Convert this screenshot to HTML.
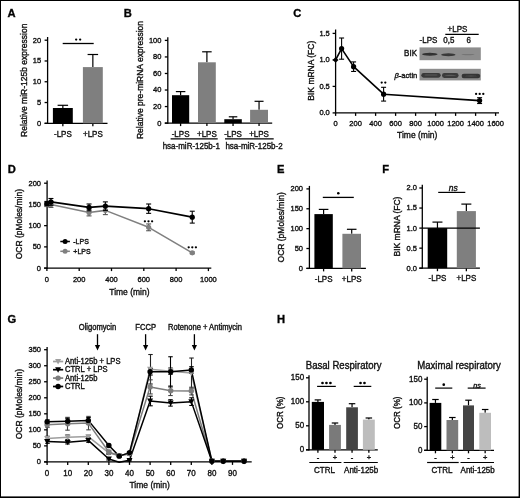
<!DOCTYPE html>
<html><head><meta charset="utf-8"><style>
html,body{margin:0;padding:0;background:#fff;}
svg{display:block;filter:grayscale(1) blur(0.3px);}
text{font-family:"Liberation Sans", sans-serif;stroke:#111;stroke-width:0.35px;}
</style></head><body>
<svg width="520" height="498" viewBox="0 0 520 498">
<rect x="0.00" y="0.00" width="520.00" height="498.00" fill="#000" />
<rect x="1.00" y="1.00" width="517.60" height="495.40" fill="#fff" />
<text x="7.60" y="16.70" font-size="11.2" text-anchor="start" font-weight="bold" fill="#000" transform="matrix(1 0 0 1.03 0 -0.501)">A</text>
<text x="123.70" y="16.90" font-size="11.2" text-anchor="start" font-weight="bold" fill="#000" transform="matrix(1 0 0 1.03 0 -0.507)">B</text>
<text x="293.20" y="16.90" font-size="11.2" text-anchor="start" font-weight="bold" fill="#000" transform="matrix(1 0 0 1.03 0 -0.507)">C</text>
<text x="7.70" y="172.90" font-size="11.2" text-anchor="start" font-weight="bold" fill="#000" transform="matrix(1 0 0 1.03 0 -5.187)">D</text>
<text x="276.90" y="172.70" font-size="11.2" text-anchor="start" font-weight="bold" fill="#000" transform="matrix(1 0 0 1.03 0 -5.181)">E</text>
<text x="382.20" y="173.00" font-size="11.2" text-anchor="start" font-weight="bold" fill="#000" transform="matrix(1 0 0 1.03 0 -5.190)">F</text>
<text x="7.50" y="322.80" font-size="11.2" text-anchor="start" font-weight="bold" fill="#000" transform="matrix(1 0 0 1.03 0 -9.684)">G</text>
<text x="277.00" y="322.60" font-size="11.2" text-anchor="start" font-weight="bold" fill="#000" transform="matrix(1 0 0 1.03 0 -9.678)">H</text>
<line x1="47.60" y1="37.00" x2="47.60" y2="123.90" stroke="#000" stroke-width="1.3" />
<line x1="44.60" y1="123.30" x2="47.60" y2="123.30" stroke="#000" stroke-width="1.3" />
<text x="41.20" y="125.74" font-size="7.5" text-anchor="end" font-weight="normal" fill="#111" transform="matrix(1 0 0 1.07 0 -8.802)">0</text>
<line x1="44.60" y1="102.53" x2="47.60" y2="102.53" stroke="#000" stroke-width="1.3" />
<text x="41.20" y="104.96" font-size="7.5" text-anchor="end" font-weight="normal" fill="#111" transform="matrix(1 0 0 1.07 0 -7.347)">5</text>
<line x1="44.60" y1="81.75" x2="47.60" y2="81.75" stroke="#000" stroke-width="1.3" />
<text x="41.20" y="84.19" font-size="7.5" text-anchor="end" font-weight="normal" fill="#111" transform="matrix(1 0 0 1.07 0 -5.893)">10</text>
<line x1="44.60" y1="60.98" x2="47.60" y2="60.98" stroke="#000" stroke-width="1.3" />
<text x="41.20" y="63.41" font-size="7.5" text-anchor="end" font-weight="normal" fill="#111" transform="matrix(1 0 0 1.07 0 -4.439)">15</text>
<line x1="44.60" y1="40.20" x2="47.60" y2="40.20" stroke="#000" stroke-width="1.3" />
<text x="41.20" y="42.64" font-size="7.5" text-anchor="end" font-weight="normal" fill="#111" transform="matrix(1 0 0 1.07 0 -2.985)">20</text>
<line x1="44.60" y1="123.30" x2="107.50" y2="123.30" stroke="#000" stroke-width="1.3" />
<line x1="62.85" y1="123.30" x2="62.85" y2="126.30" stroke="#000" stroke-width="1.3" />
<line x1="92.85" y1="123.30" x2="92.85" y2="126.30" stroke="#000" stroke-width="1.3" />
<line x1="62.85" y1="108.00" x2="62.85" y2="105.30" stroke="#000" stroke-width="1.2" />
<line x1="57.60" y1="105.30" x2="68.10" y2="105.30" stroke="#000" stroke-width="1.2" />
<rect x="52.90" y="108.00" width="19.90" height="15.30" fill="#000" />
<line x1="92.85" y1="67.10" x2="92.85" y2="54.50" stroke="#000" stroke-width="1.2" />
<line x1="87.60" y1="54.50" x2="98.10" y2="54.50" stroke="#000" stroke-width="1.2" />
<rect x="82.90" y="67.10" width="19.90" height="56.20" fill="#7f7f7f" />
<text x="62.85" y="136.70" font-size="8" text-anchor="middle" font-weight="normal" fill="#111" transform="matrix(1 0 0 1.07 0 -9.569)">-LPS</text>
<text x="92.85" y="136.70" font-size="8" text-anchor="middle" font-weight="normal" fill="#111" transform="matrix(1 0 0 1.07 0 -9.569)">+LPS</text>
<line x1="62.70" y1="43.50" x2="93.70" y2="43.50" stroke="#000" stroke-width="1.3" />
<circle cx="76.15" cy="39.60" r="1.15" fill="#000" stroke="none" stroke-width="0"/>
<circle cx="80.15" cy="39.60" r="1.15" fill="#000" stroke="none" stroke-width="0"/>
<text x="27.20" y="80.30" font-size="8.5" text-anchor="middle" font-weight="normal" fill="#111" transform="rotate(-90 27.20 80.30) matrix(1 0 0 1.07 0 -5.621)">Relative miR-125b expression</text>
<line x1="167.80" y1="37.30" x2="167.80" y2="123.70" stroke="#000" stroke-width="1.3" />
<line x1="164.80" y1="123.10" x2="167.80" y2="123.10" stroke="#000" stroke-width="1.3" />
<text x="161.40" y="125.54" font-size="7.5" text-anchor="end" font-weight="normal" fill="#111" transform="matrix(1 0 0 1.07 0 -8.788)">0</text>
<line x1="164.80" y1="106.56" x2="167.80" y2="106.56" stroke="#000" stroke-width="1.3" />
<text x="161.40" y="109.00" font-size="7.5" text-anchor="end" font-weight="normal" fill="#111" transform="matrix(1 0 0 1.07 0 -7.630)">20</text>
<line x1="164.80" y1="90.02" x2="167.80" y2="90.02" stroke="#000" stroke-width="1.3" />
<text x="161.40" y="92.46" font-size="7.5" text-anchor="end" font-weight="normal" fill="#111" transform="matrix(1 0 0 1.07 0 -6.472)">40</text>
<line x1="164.80" y1="73.48" x2="167.80" y2="73.48" stroke="#000" stroke-width="1.3" />
<text x="161.40" y="75.92" font-size="7.5" text-anchor="end" font-weight="normal" fill="#111" transform="matrix(1 0 0 1.07 0 -5.314)">60</text>
<line x1="164.80" y1="56.94" x2="167.80" y2="56.94" stroke="#000" stroke-width="1.3" />
<text x="161.40" y="59.38" font-size="7.5" text-anchor="end" font-weight="normal" fill="#111" transform="matrix(1 0 0 1.07 0 -4.156)">80</text>
<line x1="164.80" y1="40.40" x2="167.80" y2="40.40" stroke="#000" stroke-width="1.3" />
<text x="161.40" y="42.84" font-size="7.5" text-anchor="end" font-weight="normal" fill="#111" transform="matrix(1 0 0 1.07 0 -2.999)">100</text>
<line x1="164.80" y1="123.10" x2="272.20" y2="123.10" stroke="#000" stroke-width="1.3" />
<line x1="180.60" y1="123.10" x2="180.60" y2="126.10" stroke="#000" stroke-width="1.3" />
<line x1="206.90" y1="123.10" x2="206.90" y2="126.10" stroke="#000" stroke-width="1.3" />
<line x1="233.05" y1="123.10" x2="233.05" y2="126.10" stroke="#000" stroke-width="1.3" />
<line x1="259.05" y1="123.10" x2="259.05" y2="126.10" stroke="#000" stroke-width="1.3" />
<line x1="180.60" y1="95.20" x2="180.60" y2="91.60" stroke="#000" stroke-width="1.2" />
<line x1="175.85" y1="91.60" x2="185.35" y2="91.60" stroke="#000" stroke-width="1.2" />
<rect x="172.00" y="95.20" width="17.20" height="27.90" fill="#000" />
<line x1="206.90" y1="62.30" x2="206.90" y2="51.80" stroke="#000" stroke-width="1.2" />
<line x1="202.15" y1="51.80" x2="211.65" y2="51.80" stroke="#000" stroke-width="1.2" />
<rect x="198.00" y="62.30" width="17.80" height="60.80" fill="#7f7f7f" />
<line x1="233.05" y1="119.20" x2="233.05" y2="116.80" stroke="#000" stroke-width="1.2" />
<line x1="228.80" y1="116.80" x2="237.30" y2="116.80" stroke="#000" stroke-width="1.2" />
<rect x="224.30" y="119.20" width="17.50" height="3.90" fill="#000" />
<line x1="259.05" y1="109.80" x2="259.05" y2="101.30" stroke="#000" stroke-width="1.2" />
<line x1="254.55" y1="101.30" x2="263.55" y2="101.30" stroke="#000" stroke-width="1.2" />
<rect x="250.10" y="109.80" width="17.90" height="13.30" fill="#7f7f7f" />
<text x="180.60" y="136.70" font-size="8" text-anchor="middle" font-weight="normal" fill="#111" transform="matrix(1 0 0 1.07 0 -9.569)">-LPS</text>
<text x="206.90" y="136.70" font-size="8" text-anchor="middle" font-weight="normal" fill="#111" transform="matrix(1 0 0 1.07 0 -9.569)">+LPS</text>
<text x="233.05" y="136.70" font-size="8" text-anchor="middle" font-weight="normal" fill="#111" transform="matrix(1 0 0 1.07 0 -9.569)">-LPS</text>
<text x="259.05" y="136.70" font-size="8" text-anchor="middle" font-weight="normal" fill="#111" transform="matrix(1 0 0 1.07 0 -9.569)">+LPS</text>
<line x1="170.60" y1="138.90" x2="217.70" y2="138.90" stroke="#000" stroke-width="1.2" />
<line x1="225.00" y1="138.90" x2="273.70" y2="138.90" stroke="#000" stroke-width="1.2" />
<text x="191.30" y="149.40" font-size="8" text-anchor="middle" font-weight="normal" fill="#111" transform="matrix(1 0 0 1.07 0 -10.458)">hsa-miR-125b-1</text>
<text x="254.00" y="149.40" font-size="8" text-anchor="middle" font-weight="normal" fill="#111" transform="matrix(1 0 0 1.07 0 -10.458)">hsa-miR-125b-2</text>
<text x="143.10" y="80.00" font-size="8.5" text-anchor="middle" font-weight="normal" fill="#111" transform="rotate(-90 143.10 80.00) matrix(1 0 0 1.07 0 -5.600)">Relative pre-miRNA expression</text>
<line x1="335.60" y1="29.50" x2="335.60" y2="113.50" stroke="#000" stroke-width="1.3" />
<line x1="332.60" y1="112.90" x2="335.60" y2="112.90" stroke="#000" stroke-width="1.3" />
<text x="329.80" y="115.34" font-size="7.5" text-anchor="end" font-weight="normal" fill="#111" transform="matrix(1 0 0 1.07 0 -8.074)">0.0</text>
<line x1="332.60" y1="86.40" x2="335.60" y2="86.40" stroke="#000" stroke-width="1.3" />
<text x="329.80" y="88.84" font-size="7.5" text-anchor="end" font-weight="normal" fill="#111" transform="matrix(1 0 0 1.07 0 -6.219)">0.5</text>
<line x1="332.60" y1="59.90" x2="335.60" y2="59.90" stroke="#000" stroke-width="1.3" />
<text x="329.80" y="62.34" font-size="7.5" text-anchor="end" font-weight="normal" fill="#111" transform="matrix(1 0 0 1.07 0 -4.364)">1.0</text>
<line x1="332.60" y1="33.40" x2="335.60" y2="33.40" stroke="#000" stroke-width="1.3" />
<text x="329.80" y="35.84" font-size="7.5" text-anchor="end" font-weight="normal" fill="#111" transform="matrix(1 0 0 1.07 0 -2.509)">1.5</text>
<line x1="335.60" y1="112.90" x2="499.00" y2="112.90" stroke="#000" stroke-width="1.3" />
<line x1="335.60" y1="112.90" x2="335.60" y2="115.90" stroke="#000" stroke-width="1.3" />
<line x1="355.60" y1="112.90" x2="355.60" y2="115.90" stroke="#000" stroke-width="1.3" />
<line x1="375.60" y1="112.90" x2="375.60" y2="115.90" stroke="#000" stroke-width="1.3" />
<line x1="395.60" y1="112.90" x2="395.60" y2="115.90" stroke="#000" stroke-width="1.3" />
<line x1="415.60" y1="112.90" x2="415.60" y2="115.90" stroke="#000" stroke-width="1.3" />
<line x1="435.60" y1="112.90" x2="435.60" y2="115.90" stroke="#000" stroke-width="1.3" />
<line x1="455.60" y1="112.90" x2="455.60" y2="115.90" stroke="#000" stroke-width="1.3" />
<line x1="475.60" y1="112.90" x2="475.60" y2="115.90" stroke="#000" stroke-width="1.3" />
<line x1="495.60" y1="112.90" x2="495.60" y2="115.90" stroke="#000" stroke-width="1.3" />
<text x="335.60" y="125.60" font-size="7.5" text-anchor="middle" font-weight="normal" fill="#111" transform="matrix(1 0 0 1.07 0 -8.792)">0</text>
<text x="355.60" y="125.60" font-size="7.5" text-anchor="middle" font-weight="normal" fill="#111" transform="matrix(1 0 0 1.07 0 -8.792)">200</text>
<text x="375.60" y="125.60" font-size="7.5" text-anchor="middle" font-weight="normal" fill="#111" transform="matrix(1 0 0 1.07 0 -8.792)">400</text>
<text x="395.60" y="125.60" font-size="7.5" text-anchor="middle" font-weight="normal" fill="#111" transform="matrix(1 0 0 1.07 0 -8.792)">600</text>
<text x="415.60" y="125.60" font-size="7.5" text-anchor="middle" font-weight="normal" fill="#111" transform="matrix(1 0 0 1.07 0 -8.792)">800</text>
<text x="435.60" y="125.60" font-size="7.5" text-anchor="middle" font-weight="normal" fill="#111" transform="matrix(1 0 0 1.07 0 -8.792)">1000</text>
<text x="455.60" y="125.60" font-size="7.5" text-anchor="middle" font-weight="normal" fill="#111" transform="matrix(1 0 0 1.07 0 -8.792)">1200</text>
<text x="475.60" y="125.60" font-size="7.5" text-anchor="middle" font-weight="normal" fill="#111" transform="matrix(1 0 0 1.07 0 -8.792)">1400</text>
<text x="495.60" y="125.60" font-size="7.5" text-anchor="middle" font-weight="normal" fill="#111" transform="matrix(1 0 0 1.07 0 -8.792)">1600</text>
<text x="417.20" y="137.90" font-size="8.5" text-anchor="middle" font-weight="normal" fill="#111" transform="matrix(1 0 0 1.07 0 -9.653)">Time (min)</text>
<text x="313.60" y="70.70" font-size="8.5" text-anchor="middle" font-weight="normal" fill="#111" transform="rotate(-90 313.60 70.70) matrix(1 0 0 1.07 0 -4.949)">BIK mRNA (FC)</text>
<polyline points="335.60,59.90 341.60,48.61 353.60,66.68 383.60,94.19 479.60,100.60" fill="none" stroke="#000" stroke-width="1.6" stroke-linejoin="round" />
<line x1="341.60" y1="38.01" x2="341.60" y2="59.21" stroke="#000" stroke-width="1.1" />
<line x1="339.10" y1="38.01" x2="344.10" y2="38.01" stroke="#000" stroke-width="1.1" />
<line x1="339.10" y1="59.21" x2="344.10" y2="59.21" stroke="#000" stroke-width="1.1" />
<line x1="353.60" y1="61.91" x2="353.60" y2="71.45" stroke="#000" stroke-width="1.1" />
<line x1="351.10" y1="61.91" x2="356.10" y2="61.91" stroke="#000" stroke-width="1.1" />
<line x1="351.10" y1="71.45" x2="356.10" y2="71.45" stroke="#000" stroke-width="1.1" />
<line x1="383.60" y1="87.30" x2="383.60" y2="101.08" stroke="#000" stroke-width="1.1" />
<line x1="381.10" y1="87.30" x2="386.10" y2="87.30" stroke="#000" stroke-width="1.1" />
<line x1="381.10" y1="101.08" x2="386.10" y2="101.08" stroke="#000" stroke-width="1.1" />
<line x1="479.60" y1="97.69" x2="479.60" y2="103.52" stroke="#000" stroke-width="1.1" />
<line x1="477.10" y1="97.69" x2="482.10" y2="97.69" stroke="#000" stroke-width="1.1" />
<line x1="477.10" y1="103.52" x2="482.10" y2="103.52" stroke="#000" stroke-width="1.1" />
<circle cx="341.60" cy="48.61" r="2.6" fill="#000" stroke="none" stroke-width="0"/>
<circle cx="353.60" cy="66.68" r="2.6" fill="#000" stroke="none" stroke-width="0"/>
<circle cx="383.60" cy="94.19" r="2.6" fill="#000" stroke="none" stroke-width="0"/>
<circle cx="479.60" cy="100.60" r="2.6" fill="#000" stroke="none" stroke-width="0"/>
<polygon points="332.70,59.90 335.60,57.00 338.50,59.90 335.60,62.80" fill="#000"/>
<circle cx="381.70" cy="82.60" r="1.15" fill="#000" stroke="none" stroke-width="0"/>
<circle cx="385.30" cy="82.60" r="1.15" fill="#000" stroke="none" stroke-width="0"/>
<circle cx="476.10" cy="93.90" r="1.15" fill="#000" stroke="none" stroke-width="0"/>
<circle cx="479.70" cy="93.90" r="1.15" fill="#000" stroke="none" stroke-width="0"/>
<circle cx="483.30" cy="93.90" r="1.15" fill="#000" stroke="none" stroke-width="0"/>
<text x="457.50" y="32.30" font-size="8" text-anchor="middle" font-weight="normal" fill="#111" transform="matrix(1 0 0 1.07 0 -2.261)">+LPS</text>
<line x1="445.30" y1="34.30" x2="478.70" y2="34.30" stroke="#000" stroke-width="1.3" />
<text x="428.50" y="42.80" font-size="8" text-anchor="middle" font-weight="normal" fill="#111" transform="matrix(1 0 0 1.07 0 -2.996)">-LPS</text>
<text x="448.90" y="42.80" font-size="8" text-anchor="middle" font-weight="normal" fill="#111" transform="matrix(1 0 0 1.07 0 -2.996)">0,5</text>
<text x="468.80" y="42.80" font-size="8" text-anchor="middle" font-weight="normal" fill="#111" transform="matrix(1 0 0 1.07 0 -2.996)">6</text>
<text x="417.00" y="56.50" font-size="8" text-anchor="end" font-weight="normal" fill="#111" transform="matrix(1 0 0 1.07 0 -3.955)">BIK</text>
<text x="417.3" y="78.3" font-size="7.6" text-anchor="end" fill="#111"><tspan font-style="italic">&#946;</tspan>-actin</text>
<defs><filter id="bl" x="-20%" y="-50%" width="140%" height="200%"><feGaussianBlur stdDeviation="0.7"/></filter><filter id="bl2" x="-20%" y="-80%" width="140%" height="260%"><feGaussianBlur stdDeviation="0.9"/></filter></defs>
<rect x="419.50" y="47.40" width="61.30" height="12.80" fill="#8d8d8d" />
<rect x="419.50" y="68.80" width="61.30" height="11.60" fill="#8d8d8d" />
<g filter="url(#bl)">
<ellipse cx="429.8" cy="54.2" rx="7.8" ry="1.5" fill="#303030"/>
<ellipse cx="448.3" cy="54.8" rx="7.2" ry="1.5" fill="#383838"/>
<ellipse cx="468" cy="54.6" rx="6.5" ry="0.7" fill="#747474"/>
<rect x="421.3" y="72.9" width="19.4" height="4.8" rx="2.4" fill="#383838"/>
<rect x="442" y="73.1" width="16.6" height="4.8" rx="2.4" fill="#3a3a3a"/>
<rect x="461.6" y="73.8" width="18.6" height="4.4" rx="2.2" fill="#363636"/>
<ellipse cx="431" cy="75.0" rx="7" ry="0.6" fill="#5a5a5a"/><ellipse cx="450.3" cy="75.3" rx="6" ry="0.6" fill="#5a5a5a"/><ellipse cx="471" cy="76.0" rx="6" ry="0.5" fill="#555"/>
</g>
<line x1="47.10" y1="180.40" x2="47.10" y2="268.70" stroke="#000" stroke-width="1.3" />
<line x1="44.10" y1="268.10" x2="47.10" y2="268.10" stroke="#000" stroke-width="1.3" />
<text x="41.00" y="270.54" font-size="7.5" text-anchor="end" font-weight="normal" fill="#111" transform="matrix(1 0 0 1.07 0 -18.938)">0</text>
<line x1="44.10" y1="246.88" x2="47.10" y2="246.88" stroke="#000" stroke-width="1.3" />
<text x="41.00" y="249.31" font-size="7.5" text-anchor="end" font-weight="normal" fill="#111" transform="matrix(1 0 0 1.07 0 -17.452)">50</text>
<line x1="44.10" y1="225.65" x2="47.10" y2="225.65" stroke="#000" stroke-width="1.3" />
<text x="41.00" y="228.09" font-size="7.5" text-anchor="end" font-weight="normal" fill="#111" transform="matrix(1 0 0 1.07 0 -15.966)">100</text>
<line x1="44.10" y1="204.43" x2="47.10" y2="204.43" stroke="#000" stroke-width="1.3" />
<text x="41.00" y="206.86" font-size="7.5" text-anchor="end" font-weight="normal" fill="#111" transform="matrix(1 0 0 1.07 0 -14.480)">150</text>
<line x1="44.10" y1="183.20" x2="47.10" y2="183.20" stroke="#000" stroke-width="1.3" />
<text x="41.00" y="185.64" font-size="7.5" text-anchor="end" font-weight="normal" fill="#111" transform="matrix(1 0 0 1.07 0 -12.995)">200</text>
<line x1="44.10" y1="268.10" x2="211.30" y2="268.10" stroke="#000" stroke-width="1.3" />
<line x1="46.90" y1="268.10" x2="46.90" y2="271.10" stroke="#000" stroke-width="1.3" />
<line x1="79.20" y1="268.10" x2="79.20" y2="271.10" stroke="#000" stroke-width="1.3" />
<line x1="111.50" y1="268.10" x2="111.50" y2="271.10" stroke="#000" stroke-width="1.3" />
<line x1="143.80" y1="268.10" x2="143.80" y2="271.10" stroke="#000" stroke-width="1.3" />
<line x1="176.10" y1="268.10" x2="176.10" y2="271.10" stroke="#000" stroke-width="1.3" />
<line x1="208.40" y1="268.10" x2="208.40" y2="271.10" stroke="#000" stroke-width="1.3" />
<text x="46.90" y="281.70" font-size="7.5" text-anchor="middle" font-weight="normal" fill="#111" transform="matrix(1 0 0 1.07 0 -19.719)">0</text>
<text x="79.20" y="281.70" font-size="7.5" text-anchor="middle" font-weight="normal" fill="#111" transform="matrix(1 0 0 1.07 0 -19.719)">200</text>
<text x="111.50" y="281.70" font-size="7.5" text-anchor="middle" font-weight="normal" fill="#111" transform="matrix(1 0 0 1.07 0 -19.719)">400</text>
<text x="143.80" y="281.70" font-size="7.5" text-anchor="middle" font-weight="normal" fill="#111" transform="matrix(1 0 0 1.07 0 -19.719)">600</text>
<text x="176.10" y="281.70" font-size="7.5" text-anchor="middle" font-weight="normal" fill="#111" transform="matrix(1 0 0 1.07 0 -19.719)">800</text>
<text x="208.40" y="281.70" font-size="7.5" text-anchor="middle" font-weight="normal" fill="#111" transform="matrix(1 0 0 1.07 0 -19.719)">1000</text>
<text x="129.40" y="294.60" font-size="8.5" text-anchor="middle" font-weight="normal" fill="#111" transform="matrix(1 0 0 1.07 0 -20.622)">Time (min)</text>
<text x="22.40" y="224.20" font-size="8.5" text-anchor="middle" font-weight="normal" fill="#111" transform="rotate(-90 22.40 224.20) matrix(1 0 0 1.07 0 -15.694)">OCR (pMoles/min)</text>
<polyline points="46.90,204.43 50.94,204.43 89.05,212.49 105.36,210.37 148.65,227.35 192.25,252.82" fill="none" stroke="#808080" stroke-width="1.6" stroke-linejoin="round" />
<line x1="46.90" y1="202.30" x2="46.90" y2="206.55" stroke="#555" stroke-width="1.1" />
<line x1="44.40" y1="202.30" x2="49.40" y2="202.30" stroke="#555" stroke-width="1.1" />
<line x1="44.40" y1="206.55" x2="49.40" y2="206.55" stroke="#555" stroke-width="1.1" />
<line x1="50.94" y1="201.45" x2="50.94" y2="207.40" stroke="#555" stroke-width="1.1" />
<line x1="48.44" y1="201.45" x2="53.44" y2="201.45" stroke="#555" stroke-width="1.1" />
<line x1="48.44" y1="207.40" x2="53.44" y2="207.40" stroke="#555" stroke-width="1.1" />
<line x1="89.05" y1="209.09" x2="89.05" y2="215.89" stroke="#555" stroke-width="1.1" />
<line x1="86.55" y1="209.09" x2="91.55" y2="209.09" stroke="#555" stroke-width="1.1" />
<line x1="86.55" y1="215.89" x2="91.55" y2="215.89" stroke="#555" stroke-width="1.1" />
<line x1="105.36" y1="206.12" x2="105.36" y2="214.61" stroke="#555" stroke-width="1.1" />
<line x1="102.86" y1="206.12" x2="107.86" y2="206.12" stroke="#555" stroke-width="1.1" />
<line x1="102.86" y1="214.61" x2="107.86" y2="214.61" stroke="#555" stroke-width="1.1" />
<line x1="148.65" y1="223.95" x2="148.65" y2="230.74" stroke="#555" stroke-width="1.1" />
<line x1="146.15" y1="223.95" x2="151.15" y2="223.95" stroke="#555" stroke-width="1.1" />
<line x1="146.15" y1="230.74" x2="151.15" y2="230.74" stroke="#555" stroke-width="1.1" />
<line x1="192.25" y1="251.97" x2="192.25" y2="253.67" stroke="#555" stroke-width="1.1" />
<line x1="189.75" y1="251.97" x2="194.75" y2="251.97" stroke="#555" stroke-width="1.1" />
<line x1="189.75" y1="253.67" x2="194.75" y2="253.67" stroke="#555" stroke-width="1.1" />
<circle cx="46.90" cy="204.43" r="2.6" fill="#808080" stroke="none" stroke-width="0"/>
<circle cx="50.94" cy="204.43" r="2.6" fill="#808080" stroke="none" stroke-width="0"/>
<circle cx="89.05" cy="212.49" r="2.6" fill="#808080" stroke="none" stroke-width="0"/>
<circle cx="105.36" cy="210.37" r="2.6" fill="#808080" stroke="none" stroke-width="0"/>
<circle cx="148.65" cy="227.35" r="2.6" fill="#808080" stroke="none" stroke-width="0"/>
<circle cx="192.25" cy="252.82" r="2.6" fill="#808080" stroke="none" stroke-width="0"/>
<polyline points="46.90,203.58 50.94,201.88 89.05,207.40 105.36,206.12 148.65,208.67 192.25,217.16" fill="none" stroke="#000" stroke-width="1.6" stroke-linejoin="round" />
<line x1="46.90" y1="201.45" x2="46.90" y2="205.70" stroke="#000" stroke-width="1.1" />
<line x1="44.40" y1="201.45" x2="49.40" y2="201.45" stroke="#000" stroke-width="1.1" />
<line x1="44.40" y1="205.70" x2="49.40" y2="205.70" stroke="#000" stroke-width="1.1" />
<line x1="50.94" y1="198.48" x2="50.94" y2="205.27" stroke="#000" stroke-width="1.1" />
<line x1="48.44" y1="198.48" x2="53.44" y2="198.48" stroke="#000" stroke-width="1.1" />
<line x1="48.44" y1="205.27" x2="53.44" y2="205.27" stroke="#000" stroke-width="1.1" />
<line x1="89.05" y1="204.00" x2="89.05" y2="210.79" stroke="#000" stroke-width="1.1" />
<line x1="86.55" y1="204.00" x2="91.55" y2="204.00" stroke="#000" stroke-width="1.1" />
<line x1="86.55" y1="210.79" x2="91.55" y2="210.79" stroke="#000" stroke-width="1.1" />
<line x1="105.36" y1="201.88" x2="105.36" y2="210.37" stroke="#000" stroke-width="1.1" />
<line x1="102.86" y1="201.88" x2="107.86" y2="201.88" stroke="#000" stroke-width="1.1" />
<line x1="102.86" y1="210.37" x2="107.86" y2="210.37" stroke="#000" stroke-width="1.1" />
<line x1="148.65" y1="204.00" x2="148.65" y2="213.34" stroke="#000" stroke-width="1.1" />
<line x1="146.15" y1="204.00" x2="151.15" y2="204.00" stroke="#000" stroke-width="1.1" />
<line x1="146.15" y1="213.34" x2="151.15" y2="213.34" stroke="#000" stroke-width="1.1" />
<line x1="192.25" y1="211.22" x2="192.25" y2="223.10" stroke="#000" stroke-width="1.1" />
<line x1="189.75" y1="211.22" x2="194.75" y2="211.22" stroke="#000" stroke-width="1.1" />
<line x1="189.75" y1="223.10" x2="194.75" y2="223.10" stroke="#000" stroke-width="1.1" />
<circle cx="46.90" cy="203.58" r="2.6" fill="#000" stroke="none" stroke-width="0"/>
<circle cx="50.94" cy="201.88" r="2.6" fill="#000" stroke="none" stroke-width="0"/>
<circle cx="89.05" cy="207.40" r="2.6" fill="#000" stroke="none" stroke-width="0"/>
<circle cx="105.36" cy="206.12" r="2.6" fill="#000" stroke="none" stroke-width="0"/>
<circle cx="148.65" cy="208.67" r="2.6" fill="#000" stroke="none" stroke-width="0"/>
<circle cx="192.25" cy="217.16" r="2.6" fill="#000" stroke="none" stroke-width="0"/>
<circle cx="144.90" cy="221.30" r="1.15" fill="#000" stroke="none" stroke-width="0"/>
<circle cx="148.50" cy="221.30" r="1.15" fill="#000" stroke="none" stroke-width="0"/>
<circle cx="152.10" cy="221.30" r="1.15" fill="#000" stroke="none" stroke-width="0"/>
<circle cx="188.70" cy="247.30" r="1.15" fill="#000" stroke="none" stroke-width="0"/>
<circle cx="192.30" cy="247.30" r="1.15" fill="#000" stroke="none" stroke-width="0"/>
<circle cx="195.90" cy="247.30" r="1.15" fill="#000" stroke="none" stroke-width="0"/>
<line x1="60.30" y1="241.50" x2="69.90" y2="241.50" stroke="#000" stroke-width="1.5" />
<circle cx="65.10" cy="241.50" r="2.5" fill="#000" stroke="none" stroke-width="0"/>
<line x1="60.30" y1="251.30" x2="69.90" y2="251.30" stroke="#808080" stroke-width="1.5" />
<circle cx="65.10" cy="251.30" r="2.5" fill="#808080" stroke="none" stroke-width="0"/>
<text x="73.30" y="244.00" font-size="7" text-anchor="start" font-weight="normal" fill="#111" transform="matrix(1 0 0 1.07 0 -17.080)">-LPS</text>
<text x="73.30" y="253.80" font-size="7" text-anchor="start" font-weight="normal" fill="#111" transform="matrix(1 0 0 1.07 0 -17.766)">+LPS</text>
<line x1="309.40" y1="185.90" x2="309.40" y2="269.00" stroke="#000" stroke-width="1.3" />
<line x1="306.40" y1="268.40" x2="309.40" y2="268.40" stroke="#000" stroke-width="1.3" />
<text x="303.00" y="270.84" font-size="7.5" text-anchor="end" font-weight="normal" fill="#111" transform="matrix(1 0 0 1.07 0 -18.959)">0</text>
<line x1="306.40" y1="248.52" x2="309.40" y2="248.52" stroke="#000" stroke-width="1.3" />
<text x="303.00" y="250.96" font-size="7.5" text-anchor="end" font-weight="normal" fill="#111" transform="matrix(1 0 0 1.07 0 -17.567)">50</text>
<line x1="306.40" y1="228.65" x2="309.40" y2="228.65" stroke="#000" stroke-width="1.3" />
<text x="303.00" y="231.09" font-size="7.5" text-anchor="end" font-weight="normal" fill="#111" transform="matrix(1 0 0 1.07 0 -16.176)">100</text>
<line x1="306.40" y1="208.78" x2="309.40" y2="208.78" stroke="#000" stroke-width="1.3" />
<text x="303.00" y="211.21" font-size="7.5" text-anchor="end" font-weight="normal" fill="#111" transform="matrix(1 0 0 1.07 0 -14.785)">150</text>
<line x1="306.40" y1="188.90" x2="309.40" y2="188.90" stroke="#000" stroke-width="1.3" />
<text x="303.00" y="191.34" font-size="7.5" text-anchor="end" font-weight="normal" fill="#111" transform="matrix(1 0 0 1.07 0 -13.394)">200</text>
<line x1="306.40" y1="268.40" x2="365.90" y2="268.40" stroke="#000" stroke-width="1.3" />
<line x1="323.60" y1="268.40" x2="323.60" y2="271.40" stroke="#000" stroke-width="1.3" />
<line x1="351.70" y1="268.40" x2="351.70" y2="271.40" stroke="#000" stroke-width="1.3" />
<line x1="323.60" y1="214.10" x2="323.60" y2="209.40" stroke="#000" stroke-width="1.2" />
<line x1="318.80" y1="209.40" x2="328.40" y2="209.40" stroke="#000" stroke-width="1.2" />
<rect x="314.40" y="214.10" width="18.40" height="54.30" fill="#000" />
<line x1="351.70" y1="233.80" x2="351.70" y2="229.30" stroke="#000" stroke-width="1.2" />
<line x1="346.90" y1="229.30" x2="356.50" y2="229.30" stroke="#000" stroke-width="1.2" />
<rect x="342.40" y="233.80" width="18.60" height="34.60" fill="#7f7f7f" />
<text x="323.60" y="281.60" font-size="8" text-anchor="middle" font-weight="normal" fill="#111" transform="matrix(1 0 0 1.07 0 -19.712)">-LPS</text>
<text x="351.70" y="281.60" font-size="8" text-anchor="middle" font-weight="normal" fill="#111" transform="matrix(1 0 0 1.07 0 -19.712)">+LPS</text>
<line x1="322.80" y1="197.40" x2="353.80" y2="197.40" stroke="#000" stroke-width="1.3" />
<circle cx="338.30" cy="193.30" r="1.3" fill="#000" stroke="none" stroke-width="0"/>
<text x="284.30" y="227.30" font-size="8.5" text-anchor="middle" font-weight="normal" fill="#111" transform="rotate(-90 284.30 227.30) matrix(1 0 0 1.07 0 -15.911)">OCR (pMoles/min)</text>
<line x1="422.30" y1="184.70" x2="422.30" y2="268.80" stroke="#000" stroke-width="1.3" />
<line x1="419.30" y1="268.20" x2="422.30" y2="268.20" stroke="#000" stroke-width="1.3" />
<text x="416.90" y="270.64" font-size="7.5" text-anchor="end" font-weight="normal" fill="#111" transform="matrix(1 0 0 1.07 0 -18.945)">0.0</text>
<line x1="419.30" y1="248.15" x2="422.30" y2="248.15" stroke="#000" stroke-width="1.3" />
<text x="416.90" y="250.59" font-size="7.5" text-anchor="end" font-weight="normal" fill="#111" transform="matrix(1 0 0 1.07 0 -17.541)">0.5</text>
<line x1="419.30" y1="228.10" x2="422.30" y2="228.10" stroke="#000" stroke-width="1.3" />
<text x="416.90" y="230.54" font-size="7.5" text-anchor="end" font-weight="normal" fill="#111" transform="matrix(1 0 0 1.07 0 -16.138)">1.0</text>
<line x1="419.30" y1="208.05" x2="422.30" y2="208.05" stroke="#000" stroke-width="1.3" />
<text x="416.90" y="210.49" font-size="7.5" text-anchor="end" font-weight="normal" fill="#111" transform="matrix(1 0 0 1.07 0 -14.734)">1.5</text>
<line x1="419.30" y1="188.00" x2="422.30" y2="188.00" stroke="#000" stroke-width="1.3" />
<text x="416.90" y="190.44" font-size="7.5" text-anchor="end" font-weight="normal" fill="#111" transform="matrix(1 0 0 1.07 0 -13.331)">2.0</text>
<line x1="419.30" y1="268.20" x2="479.90" y2="268.20" stroke="#000" stroke-width="1.3" />
<line x1="437.45" y1="268.20" x2="437.45" y2="271.20" stroke="#000" stroke-width="1.3" />
<line x1="466.35" y1="268.20" x2="466.35" y2="271.20" stroke="#000" stroke-width="1.3" />
<line x1="437.45" y1="228.10" x2="437.45" y2="222.10" stroke="#000" stroke-width="1.2" />
<line x1="432.45" y1="222.10" x2="442.45" y2="222.10" stroke="#000" stroke-width="1.2" />
<rect x="427.70" y="228.10" width="19.50" height="40.10" fill="#000" />
<line x1="466.35" y1="211.10" x2="466.35" y2="204.10" stroke="#000" stroke-width="1.2" />
<line x1="461.35" y1="204.10" x2="471.35" y2="204.10" stroke="#000" stroke-width="1.2" />
<rect x="456.80" y="211.10" width="19.10" height="57.10" fill="#7f7f7f" />
<line x1="422.30" y1="228.10" x2="479.90" y2="228.10" stroke="#000" stroke-width="1.3" />
<text x="437.45" y="281.40" font-size="8" text-anchor="middle" font-weight="normal" fill="#111" transform="matrix(1 0 0 1.07 0 -19.698)">-LPS</text>
<text x="466.35" y="281.40" font-size="8" text-anchor="middle" font-weight="normal" fill="#111" transform="matrix(1 0 0 1.07 0 -19.698)">+LPS</text>
<line x1="438.20" y1="192.40" x2="465.30" y2="192.40" stroke="#000" stroke-width="1.2" />
<text x="453.30" y="190.70" font-size="8.5" text-anchor="middle" font-weight="normal" fill="#111" font-style="italic" transform="matrix(1 0 0 1.07 0 -13.349)">ns</text>
<text x="399.70" y="226.50" font-size="8.5" text-anchor="middle" font-weight="normal" fill="#111" transform="rotate(-90 399.70 226.50) matrix(1 0 0 1.07 0 -15.855)">BIK mRNA (FC)</text>
<line x1="47.10" y1="346.90" x2="47.10" y2="462.50" stroke="#000" stroke-width="1.3" />
<line x1="44.10" y1="461.90" x2="47.10" y2="461.90" stroke="#000" stroke-width="1.3" />
<text x="41.00" y="464.34" font-size="7.5" text-anchor="end" font-weight="normal" fill="#111" transform="matrix(1 0 0 1.07 0 -32.504)">0</text>
<line x1="44.10" y1="445.87" x2="47.10" y2="445.87" stroke="#000" stroke-width="1.3" />
<text x="41.00" y="448.31" font-size="7.5" text-anchor="end" font-weight="normal" fill="#111" transform="matrix(1 0 0 1.07 0 -31.382)">50</text>
<line x1="44.10" y1="429.84" x2="47.10" y2="429.84" stroke="#000" stroke-width="1.3" />
<text x="41.00" y="432.28" font-size="7.5" text-anchor="end" font-weight="normal" fill="#111" transform="matrix(1 0 0 1.07 0 -30.260)">100</text>
<line x1="44.10" y1="413.81" x2="47.10" y2="413.81" stroke="#000" stroke-width="1.3" />
<text x="41.00" y="416.25" font-size="7.5" text-anchor="end" font-weight="normal" fill="#111" transform="matrix(1 0 0 1.07 0 -29.138)">150</text>
<line x1="44.10" y1="397.79" x2="47.10" y2="397.79" stroke="#000" stroke-width="1.3" />
<text x="41.00" y="400.22" font-size="7.5" text-anchor="end" font-weight="normal" fill="#111" transform="matrix(1 0 0 1.07 0 -28.016)">200</text>
<line x1="44.10" y1="381.76" x2="47.10" y2="381.76" stroke="#000" stroke-width="1.3" />
<text x="41.00" y="384.19" font-size="7.5" text-anchor="end" font-weight="normal" fill="#111" transform="matrix(1 0 0 1.07 0 -26.894)">250</text>
<line x1="44.10" y1="365.73" x2="47.10" y2="365.73" stroke="#000" stroke-width="1.3" />
<text x="41.00" y="368.17" font-size="7.5" text-anchor="end" font-weight="normal" fill="#111" transform="matrix(1 0 0 1.07 0 -25.772)">300</text>
<line x1="44.10" y1="349.70" x2="47.10" y2="349.70" stroke="#000" stroke-width="1.3" />
<text x="41.00" y="352.14" font-size="7.5" text-anchor="end" font-weight="normal" fill="#111" transform="matrix(1 0 0 1.07 0 -24.650)">350</text>
<line x1="44.10" y1="461.90" x2="251.70" y2="461.90" stroke="#000" stroke-width="1.3" />
<line x1="47.10" y1="461.90" x2="47.10" y2="464.90" stroke="#000" stroke-width="1.3" />
<line x1="67.70" y1="461.90" x2="67.70" y2="464.90" stroke="#000" stroke-width="1.3" />
<line x1="88.30" y1="461.90" x2="88.30" y2="464.90" stroke="#000" stroke-width="1.3" />
<line x1="108.90" y1="461.90" x2="108.90" y2="464.90" stroke="#000" stroke-width="1.3" />
<line x1="129.50" y1="461.90" x2="129.50" y2="464.90" stroke="#000" stroke-width="1.3" />
<line x1="150.10" y1="461.90" x2="150.10" y2="464.90" stroke="#000" stroke-width="1.3" />
<line x1="170.70" y1="461.90" x2="170.70" y2="464.90" stroke="#000" stroke-width="1.3" />
<line x1="191.30" y1="461.90" x2="191.30" y2="464.90" stroke="#000" stroke-width="1.3" />
<line x1="211.90" y1="461.90" x2="211.90" y2="464.90" stroke="#000" stroke-width="1.3" />
<line x1="232.50" y1="461.90" x2="232.50" y2="464.90" stroke="#000" stroke-width="1.3" />
<text x="47.10" y="475.60" font-size="8" text-anchor="middle" font-weight="normal" fill="#111" transform="matrix(1 0 0 1.07 0 -33.292)">0</text>
<text x="67.70" y="475.60" font-size="8" text-anchor="middle" font-weight="normal" fill="#111" transform="matrix(1 0 0 1.07 0 -33.292)">10</text>
<text x="88.30" y="475.60" font-size="8" text-anchor="middle" font-weight="normal" fill="#111" transform="matrix(1 0 0 1.07 0 -33.292)">20</text>
<text x="108.90" y="475.60" font-size="8" text-anchor="middle" font-weight="normal" fill="#111" transform="matrix(1 0 0 1.07 0 -33.292)">30</text>
<text x="129.50" y="475.60" font-size="8" text-anchor="middle" font-weight="normal" fill="#111" transform="matrix(1 0 0 1.07 0 -33.292)">40</text>
<text x="150.10" y="475.60" font-size="8" text-anchor="middle" font-weight="normal" fill="#111" transform="matrix(1 0 0 1.07 0 -33.292)">50</text>
<text x="170.70" y="475.60" font-size="8" text-anchor="middle" font-weight="normal" fill="#111" transform="matrix(1 0 0 1.07 0 -33.292)">60</text>
<text x="191.30" y="475.60" font-size="8" text-anchor="middle" font-weight="normal" fill="#111" transform="matrix(1 0 0 1.07 0 -33.292)">70</text>
<text x="211.90" y="475.60" font-size="8" text-anchor="middle" font-weight="normal" fill="#111" transform="matrix(1 0 0 1.07 0 -33.292)">80</text>
<text x="232.50" y="475.60" font-size="8" text-anchor="middle" font-weight="normal" fill="#111" transform="matrix(1 0 0 1.07 0 -33.292)">90</text>
<text x="149.60" y="488.30" font-size="8.5" text-anchor="middle" font-weight="normal" fill="#111" transform="matrix(1 0 0 1.07 0 -34.181)">Time (min)</text>
<text x="21.60" y="404.20" font-size="8.5" text-anchor="middle" font-weight="normal" fill="#111" transform="rotate(-90 21.60 404.20) matrix(1 0 0 1.07 0 -28.294)">OCR (pMoles/min)</text>
<polyline points="47.10,438.50 67.70,437.22 88.30,436.57 108.90,452.92 119.20,455.49 129.50,454.21 150.10,369.25 170.70,371.18 191.30,373.10 211.90,461.26 223.23,461.26 244.04,461.26" fill="none" stroke="#9e9e9e" stroke-width="1.5" stroke-linejoin="round" />
<polyline points="47.10,424.71 67.70,423.75 88.30,423.11 108.90,451.96 119.20,455.81 129.50,453.57 150.10,386.89 170.70,390.73 191.30,391.05 211.90,461.26 223.23,461.26 244.04,461.26" fill="none" stroke="#7d7d7d" stroke-width="1.5" stroke-linejoin="round" />
<polyline points="47.10,441.38 67.70,442.35 88.30,440.42 108.90,459.01 119.20,462.28 129.50,460.30 150.10,400.99 170.70,402.91 191.30,401.63 211.90,461.26 223.23,461.26 244.04,461.26" fill="none" stroke="#000" stroke-width="1.5" stroke-linejoin="round" />
<polyline points="47.10,421.83 67.70,421.19 88.30,420.39 108.90,445.55 119.20,456.13 129.50,452.60 150.10,371.82 170.70,371.82 191.30,369.90 211.90,461.26 223.23,461.26 244.04,461.26" fill="none" stroke="#000" stroke-width="1.5" stroke-linejoin="round" />
<line x1="47.50" y1="436.25" x2="47.50" y2="440.74" stroke="#222" stroke-width="1.1" />
<line x1="45.25" y1="436.25" x2="49.75" y2="436.25" stroke="#222" stroke-width="1.1" />
<line x1="45.25" y1="440.74" x2="49.75" y2="440.74" stroke="#222" stroke-width="1.1" />
<line x1="67.50" y1="434.97" x2="67.50" y2="439.46" stroke="#222" stroke-width="1.1" />
<line x1="65.25" y1="434.97" x2="69.75" y2="434.97" stroke="#222" stroke-width="1.1" />
<line x1="65.25" y1="439.46" x2="69.75" y2="439.46" stroke="#222" stroke-width="1.1" />
<line x1="88.50" y1="435.29" x2="88.50" y2="437.86" stroke="#222" stroke-width="1.1" />
<line x1="86.25" y1="435.29" x2="90.75" y2="435.29" stroke="#222" stroke-width="1.1" />
<line x1="86.25" y1="437.86" x2="90.75" y2="437.86" stroke="#222" stroke-width="1.1" />
<line x1="108.50" y1="451.64" x2="108.50" y2="454.21" stroke="#222" stroke-width="1.1" />
<line x1="106.25" y1="451.64" x2="110.75" y2="451.64" stroke="#222" stroke-width="1.1" />
<line x1="106.25" y1="454.21" x2="110.75" y2="454.21" stroke="#222" stroke-width="1.1" />
<line x1="119.50" y1="454.53" x2="119.50" y2="456.45" stroke="#222" stroke-width="1.1" />
<line x1="117.25" y1="454.53" x2="121.75" y2="454.53" stroke="#222" stroke-width="1.1" />
<line x1="117.25" y1="456.45" x2="121.75" y2="456.45" stroke="#222" stroke-width="1.1" />
<line x1="129.50" y1="453.24" x2="129.50" y2="455.17" stroke="#222" stroke-width="1.1" />
<line x1="127.25" y1="453.24" x2="131.75" y2="453.24" stroke="#222" stroke-width="1.1" />
<line x1="127.25" y1="455.17" x2="131.75" y2="455.17" stroke="#222" stroke-width="1.1" />
<line x1="150.50" y1="354.51" x2="150.50" y2="384.00" stroke="#222" stroke-width="1.1" />
<line x1="148.25" y1="354.51" x2="152.75" y2="354.51" stroke="#222" stroke-width="1.1" />
<line x1="148.25" y1="384.00" x2="152.75" y2="384.00" stroke="#222" stroke-width="1.1" />
<line x1="170.50" y1="367.97" x2="170.50" y2="374.38" stroke="#222" stroke-width="1.1" />
<line x1="168.25" y1="367.97" x2="172.75" y2="367.97" stroke="#222" stroke-width="1.1" />
<line x1="168.25" y1="374.38" x2="172.75" y2="374.38" stroke="#222" stroke-width="1.1" />
<line x1="191.50" y1="358.03" x2="191.50" y2="388.17" stroke="#222" stroke-width="1.1" />
<line x1="189.25" y1="358.03" x2="193.75" y2="358.03" stroke="#222" stroke-width="1.1" />
<line x1="189.25" y1="388.17" x2="193.75" y2="388.17" stroke="#222" stroke-width="1.1" />
<line x1="211.50" y1="460.94" x2="211.50" y2="461.58" stroke="#222" stroke-width="1.1" />
<line x1="209.25" y1="460.94" x2="213.75" y2="460.94" stroke="#222" stroke-width="1.1" />
<line x1="209.25" y1="461.58" x2="213.75" y2="461.58" stroke="#222" stroke-width="1.1" />
<line x1="223.50" y1="460.94" x2="223.50" y2="461.58" stroke="#222" stroke-width="1.1" />
<line x1="221.25" y1="460.94" x2="225.75" y2="460.94" stroke="#222" stroke-width="1.1" />
<line x1="221.25" y1="461.58" x2="225.75" y2="461.58" stroke="#222" stroke-width="1.1" />
<line x1="244.50" y1="460.94" x2="244.50" y2="461.58" stroke="#222" stroke-width="1.1" />
<line x1="242.25" y1="460.94" x2="246.75" y2="460.94" stroke="#222" stroke-width="1.1" />
<line x1="242.25" y1="461.58" x2="246.75" y2="461.58" stroke="#222" stroke-width="1.1" />
<line x1="47.50" y1="422.15" x2="47.50" y2="427.28" stroke="#444" stroke-width="1.1" />
<line x1="45.25" y1="422.15" x2="49.75" y2="422.15" stroke="#444" stroke-width="1.1" />
<line x1="45.25" y1="427.28" x2="49.75" y2="427.28" stroke="#444" stroke-width="1.1" />
<line x1="67.50" y1="417.34" x2="67.50" y2="430.16" stroke="#444" stroke-width="1.1" />
<line x1="65.25" y1="417.34" x2="69.75" y2="417.34" stroke="#444" stroke-width="1.1" />
<line x1="65.25" y1="430.16" x2="69.75" y2="430.16" stroke="#444" stroke-width="1.1" />
<line x1="88.50" y1="416.38" x2="88.50" y2="429.84" stroke="#444" stroke-width="1.1" />
<line x1="86.25" y1="416.38" x2="90.75" y2="416.38" stroke="#444" stroke-width="1.1" />
<line x1="86.25" y1="429.84" x2="90.75" y2="429.84" stroke="#444" stroke-width="1.1" />
<line x1="108.50" y1="450.36" x2="108.50" y2="453.57" stroke="#444" stroke-width="1.1" />
<line x1="106.25" y1="450.36" x2="110.75" y2="450.36" stroke="#444" stroke-width="1.1" />
<line x1="106.25" y1="453.57" x2="110.75" y2="453.57" stroke="#444" stroke-width="1.1" />
<line x1="119.50" y1="454.85" x2="119.50" y2="456.77" stroke="#444" stroke-width="1.1" />
<line x1="117.25" y1="454.85" x2="121.75" y2="454.85" stroke="#444" stroke-width="1.1" />
<line x1="117.25" y1="456.77" x2="121.75" y2="456.77" stroke="#444" stroke-width="1.1" />
<line x1="129.50" y1="452.60" x2="129.50" y2="454.53" stroke="#444" stroke-width="1.1" />
<line x1="127.25" y1="452.60" x2="131.75" y2="452.60" stroke="#444" stroke-width="1.1" />
<line x1="127.25" y1="454.53" x2="131.75" y2="454.53" stroke="#444" stroke-width="1.1" />
<line x1="150.50" y1="379.83" x2="150.50" y2="393.94" stroke="#444" stroke-width="1.1" />
<line x1="148.25" y1="379.83" x2="152.75" y2="379.83" stroke="#444" stroke-width="1.1" />
<line x1="148.25" y1="393.94" x2="152.75" y2="393.94" stroke="#444" stroke-width="1.1" />
<line x1="170.50" y1="385.92" x2="170.50" y2="395.54" stroke="#444" stroke-width="1.1" />
<line x1="168.25" y1="385.92" x2="172.75" y2="385.92" stroke="#444" stroke-width="1.1" />
<line x1="168.25" y1="395.54" x2="172.75" y2="395.54" stroke="#444" stroke-width="1.1" />
<line x1="191.50" y1="387.21" x2="191.50" y2="394.90" stroke="#444" stroke-width="1.1" />
<line x1="189.25" y1="387.21" x2="193.75" y2="387.21" stroke="#444" stroke-width="1.1" />
<line x1="189.25" y1="394.90" x2="193.75" y2="394.90" stroke="#444" stroke-width="1.1" />
<line x1="211.50" y1="460.94" x2="211.50" y2="461.58" stroke="#444" stroke-width="1.1" />
<line x1="209.25" y1="460.94" x2="213.75" y2="460.94" stroke="#444" stroke-width="1.1" />
<line x1="209.25" y1="461.58" x2="213.75" y2="461.58" stroke="#444" stroke-width="1.1" />
<line x1="223.50" y1="460.94" x2="223.50" y2="461.58" stroke="#444" stroke-width="1.1" />
<line x1="221.25" y1="460.94" x2="225.75" y2="460.94" stroke="#444" stroke-width="1.1" />
<line x1="221.25" y1="461.58" x2="225.75" y2="461.58" stroke="#444" stroke-width="1.1" />
<line x1="244.50" y1="460.94" x2="244.50" y2="461.58" stroke="#444" stroke-width="1.1" />
<line x1="242.25" y1="460.94" x2="246.75" y2="460.94" stroke="#444" stroke-width="1.1" />
<line x1="242.25" y1="461.58" x2="246.75" y2="461.58" stroke="#444" stroke-width="1.1" />
<line x1="47.50" y1="439.46" x2="47.50" y2="443.31" stroke="#000" stroke-width="1.1" />
<line x1="45.25" y1="439.46" x2="49.75" y2="439.46" stroke="#000" stroke-width="1.1" />
<line x1="45.25" y1="443.31" x2="49.75" y2="443.31" stroke="#000" stroke-width="1.1" />
<line x1="67.50" y1="440.74" x2="67.50" y2="443.95" stroke="#000" stroke-width="1.1" />
<line x1="65.25" y1="440.74" x2="69.75" y2="440.74" stroke="#000" stroke-width="1.1" />
<line x1="65.25" y1="443.95" x2="69.75" y2="443.95" stroke="#000" stroke-width="1.1" />
<line x1="88.50" y1="438.50" x2="88.50" y2="442.35" stroke="#000" stroke-width="1.1" />
<line x1="86.25" y1="438.50" x2="90.75" y2="438.50" stroke="#000" stroke-width="1.1" />
<line x1="86.25" y1="442.35" x2="90.75" y2="442.35" stroke="#000" stroke-width="1.1" />
<line x1="108.50" y1="458.05" x2="108.50" y2="459.98" stroke="#000" stroke-width="1.1" />
<line x1="106.25" y1="458.05" x2="110.75" y2="458.05" stroke="#000" stroke-width="1.1" />
<line x1="106.25" y1="459.98" x2="110.75" y2="459.98" stroke="#000" stroke-width="1.1" />
<line x1="129.50" y1="459.66" x2="129.50" y2="460.94" stroke="#000" stroke-width="1.1" />
<line x1="127.25" y1="459.66" x2="131.75" y2="459.66" stroke="#000" stroke-width="1.1" />
<line x1="127.25" y1="460.94" x2="131.75" y2="460.94" stroke="#000" stroke-width="1.1" />
<line x1="150.50" y1="396.18" x2="150.50" y2="405.80" stroke="#000" stroke-width="1.1" />
<line x1="148.25" y1="396.18" x2="152.75" y2="396.18" stroke="#000" stroke-width="1.1" />
<line x1="148.25" y1="405.80" x2="152.75" y2="405.80" stroke="#000" stroke-width="1.1" />
<line x1="170.50" y1="399.71" x2="170.50" y2="406.12" stroke="#000" stroke-width="1.1" />
<line x1="168.25" y1="399.71" x2="172.75" y2="399.71" stroke="#000" stroke-width="1.1" />
<line x1="168.25" y1="406.12" x2="172.75" y2="406.12" stroke="#000" stroke-width="1.1" />
<line x1="191.50" y1="397.79" x2="191.50" y2="405.48" stroke="#000" stroke-width="1.1" />
<line x1="189.25" y1="397.79" x2="193.75" y2="397.79" stroke="#000" stroke-width="1.1" />
<line x1="189.25" y1="405.48" x2="193.75" y2="405.48" stroke="#000" stroke-width="1.1" />
<line x1="211.50" y1="460.94" x2="211.50" y2="461.58" stroke="#000" stroke-width="1.1" />
<line x1="209.25" y1="460.94" x2="213.75" y2="460.94" stroke="#000" stroke-width="1.1" />
<line x1="209.25" y1="461.58" x2="213.75" y2="461.58" stroke="#000" stroke-width="1.1" />
<line x1="223.50" y1="460.94" x2="223.50" y2="461.58" stroke="#000" stroke-width="1.1" />
<line x1="221.25" y1="460.94" x2="225.75" y2="460.94" stroke="#000" stroke-width="1.1" />
<line x1="221.25" y1="461.58" x2="225.75" y2="461.58" stroke="#000" stroke-width="1.1" />
<line x1="244.50" y1="460.94" x2="244.50" y2="461.58" stroke="#000" stroke-width="1.1" />
<line x1="242.25" y1="460.94" x2="246.75" y2="460.94" stroke="#000" stroke-width="1.1" />
<line x1="242.25" y1="461.58" x2="246.75" y2="461.58" stroke="#000" stroke-width="1.1" />
<line x1="47.50" y1="419.91" x2="47.50" y2="423.75" stroke="#000" stroke-width="1.1" />
<line x1="45.25" y1="419.91" x2="49.75" y2="419.91" stroke="#000" stroke-width="1.1" />
<line x1="45.25" y1="423.75" x2="49.75" y2="423.75" stroke="#000" stroke-width="1.1" />
<line x1="67.50" y1="418.30" x2="67.50" y2="424.07" stroke="#000" stroke-width="1.1" />
<line x1="65.25" y1="418.30" x2="69.75" y2="418.30" stroke="#000" stroke-width="1.1" />
<line x1="65.25" y1="424.07" x2="69.75" y2="424.07" stroke="#000" stroke-width="1.1" />
<line x1="88.50" y1="417.50" x2="88.50" y2="423.27" stroke="#000" stroke-width="1.1" />
<line x1="86.25" y1="417.50" x2="90.75" y2="417.50" stroke="#000" stroke-width="1.1" />
<line x1="86.25" y1="423.27" x2="90.75" y2="423.27" stroke="#000" stroke-width="1.1" />
<line x1="108.50" y1="444.27" x2="108.50" y2="446.83" stroke="#000" stroke-width="1.1" />
<line x1="106.25" y1="444.27" x2="110.75" y2="444.27" stroke="#000" stroke-width="1.1" />
<line x1="106.25" y1="446.83" x2="110.75" y2="446.83" stroke="#000" stroke-width="1.1" />
<line x1="119.50" y1="455.17" x2="119.50" y2="457.09" stroke="#000" stroke-width="1.1" />
<line x1="117.25" y1="455.17" x2="121.75" y2="455.17" stroke="#000" stroke-width="1.1" />
<line x1="117.25" y1="457.09" x2="121.75" y2="457.09" stroke="#000" stroke-width="1.1" />
<line x1="129.50" y1="451.64" x2="129.50" y2="453.57" stroke="#000" stroke-width="1.1" />
<line x1="127.25" y1="451.64" x2="131.75" y2="451.64" stroke="#000" stroke-width="1.1" />
<line x1="127.25" y1="453.57" x2="131.75" y2="453.57" stroke="#000" stroke-width="1.1" />
<line x1="150.50" y1="368.61" x2="150.50" y2="375.03" stroke="#000" stroke-width="1.1" />
<line x1="148.25" y1="368.61" x2="152.75" y2="368.61" stroke="#000" stroke-width="1.1" />
<line x1="148.25" y1="375.03" x2="152.75" y2="375.03" stroke="#000" stroke-width="1.1" />
<line x1="170.50" y1="356.75" x2="170.50" y2="386.89" stroke="#000" stroke-width="1.1" />
<line x1="168.25" y1="356.75" x2="172.75" y2="356.75" stroke="#000" stroke-width="1.1" />
<line x1="168.25" y1="386.89" x2="172.75" y2="386.89" stroke="#000" stroke-width="1.1" />
<line x1="191.50" y1="366.69" x2="191.50" y2="373.10" stroke="#000" stroke-width="1.1" />
<line x1="189.25" y1="366.69" x2="193.75" y2="366.69" stroke="#000" stroke-width="1.1" />
<line x1="189.25" y1="373.10" x2="193.75" y2="373.10" stroke="#000" stroke-width="1.1" />
<line x1="211.50" y1="460.94" x2="211.50" y2="461.58" stroke="#000" stroke-width="1.1" />
<line x1="209.25" y1="460.94" x2="213.75" y2="460.94" stroke="#000" stroke-width="1.1" />
<line x1="209.25" y1="461.58" x2="213.75" y2="461.58" stroke="#000" stroke-width="1.1" />
<line x1="223.50" y1="460.94" x2="223.50" y2="461.58" stroke="#000" stroke-width="1.1" />
<line x1="221.25" y1="460.94" x2="225.75" y2="460.94" stroke="#000" stroke-width="1.1" />
<line x1="221.25" y1="461.58" x2="225.75" y2="461.58" stroke="#000" stroke-width="1.1" />
<line x1="244.50" y1="460.94" x2="244.50" y2="461.58" stroke="#000" stroke-width="1.1" />
<line x1="242.25" y1="460.94" x2="246.75" y2="460.94" stroke="#000" stroke-width="1.1" />
<line x1="242.25" y1="461.58" x2="246.75" y2="461.58" stroke="#000" stroke-width="1.1" />
<polygon points="44.10,436.10 50.10,436.10 47.10,441.50" fill="#9e9e9e"/>
<polygon points="64.70,434.82 70.70,434.82 67.70,440.22" fill="#9e9e9e"/>
<polygon points="85.30,434.17 91.30,434.17 88.30,439.57" fill="#9e9e9e"/>
<polygon points="105.90,450.52 111.90,450.52 108.90,455.92" fill="#9e9e9e"/>
<polygon points="116.20,453.09 122.20,453.09 119.20,458.49" fill="#9e9e9e"/>
<polygon points="126.50,451.81 132.50,451.81 129.50,457.21" fill="#9e9e9e"/>
<polygon points="147.10,366.85 153.10,366.85 150.10,372.25" fill="#9e9e9e"/>
<polygon points="167.70,368.78 173.70,368.78 170.70,374.18" fill="#9e9e9e"/>
<polygon points="188.30,370.70 194.30,370.70 191.30,376.10" fill="#9e9e9e"/>
<polygon points="208.90,458.86 214.90,458.86 211.90,464.26" fill="#9e9e9e"/>
<polygon points="220.23,458.86 226.23,458.86 223.23,464.26" fill="#9e9e9e"/>
<polygon points="241.04,458.86 247.04,458.86 244.04,464.26" fill="#9e9e9e"/>
<circle cx="47.10" cy="424.71" r="2.7" fill="#7d7d7d" stroke="none" stroke-width="0"/>
<circle cx="67.70" cy="423.75" r="2.7" fill="#7d7d7d" stroke="none" stroke-width="0"/>
<circle cx="88.30" cy="423.11" r="2.7" fill="#7d7d7d" stroke="none" stroke-width="0"/>
<circle cx="108.90" cy="451.96" r="2.7" fill="#7d7d7d" stroke="none" stroke-width="0"/>
<circle cx="119.20" cy="455.81" r="2.7" fill="#7d7d7d" stroke="none" stroke-width="0"/>
<circle cx="129.50" cy="453.57" r="2.7" fill="#7d7d7d" stroke="none" stroke-width="0"/>
<circle cx="150.10" cy="386.89" r="2.7" fill="#7d7d7d" stroke="none" stroke-width="0"/>
<circle cx="170.70" cy="390.73" r="2.7" fill="#7d7d7d" stroke="none" stroke-width="0"/>
<circle cx="191.30" cy="391.05" r="2.7" fill="#7d7d7d" stroke="none" stroke-width="0"/>
<circle cx="211.90" cy="461.26" r="2.7" fill="#7d7d7d" stroke="none" stroke-width="0"/>
<circle cx="223.23" cy="461.26" r="2.7" fill="#7d7d7d" stroke="none" stroke-width="0"/>
<circle cx="244.04" cy="461.26" r="2.7" fill="#7d7d7d" stroke="none" stroke-width="0"/>
<polygon points="44.10,438.98 50.10,438.98 47.10,444.38" fill="#000"/>
<polygon points="64.70,439.95 70.70,439.95 67.70,445.35" fill="#000"/>
<polygon points="85.30,438.02 91.30,438.02 88.30,443.42" fill="#000"/>
<polygon points="105.90,456.61 111.90,456.61 108.90,462.01" fill="#000"/>
<polygon points="126.50,457.90 132.50,457.90 129.50,463.30" fill="#000"/>
<polygon points="147.10,398.59 153.10,398.59 150.10,403.99" fill="#000"/>
<polygon points="167.70,400.51 173.70,400.51 170.70,405.91" fill="#000"/>
<polygon points="188.30,399.23 194.30,399.23 191.30,404.63" fill="#000"/>
<polygon points="208.90,458.86 214.90,458.86 211.90,464.26" fill="#000"/>
<polygon points="220.23,458.86 226.23,458.86 223.23,464.26" fill="#000"/>
<polygon points="241.04,458.86 247.04,458.86 244.04,464.26" fill="#000"/>
<circle cx="47.10" cy="421.83" r="2.7" fill="#000" stroke="none" stroke-width="0"/>
<circle cx="67.70" cy="421.19" r="2.7" fill="#000" stroke="none" stroke-width="0"/>
<circle cx="88.30" cy="420.39" r="2.7" fill="#000" stroke="none" stroke-width="0"/>
<circle cx="108.90" cy="445.55" r="2.7" fill="#000" stroke="none" stroke-width="0"/>
<circle cx="119.20" cy="456.13" r="2.7" fill="#000" stroke="none" stroke-width="0"/>
<circle cx="129.50" cy="452.60" r="2.7" fill="#000" stroke="none" stroke-width="0"/>
<circle cx="150.10" cy="371.82" r="2.7" fill="#000" stroke="none" stroke-width="0"/>
<circle cx="170.70" cy="371.82" r="2.7" fill="#000" stroke="none" stroke-width="0"/>
<circle cx="191.30" cy="369.90" r="2.7" fill="#000" stroke="none" stroke-width="0"/>
<circle cx="211.90" cy="461.26" r="2.7" fill="#000" stroke="none" stroke-width="0"/>
<circle cx="223.23" cy="461.26" r="2.7" fill="#000" stroke="none" stroke-width="0"/>
<circle cx="244.04" cy="461.26" r="2.7" fill="#000" stroke="none" stroke-width="0"/>
<line x1="53.00" y1="361.50" x2="63.20" y2="361.50" stroke="#9e9e9e" stroke-width="1.7" />
<polygon points="55.10,359.10 61.10,359.10 58.10,364.50" fill="#9e9e9e"/>
<text x="65.00" y="364.20" font-size="7.6" text-anchor="start" font-weight="normal" fill="#111" transform="matrix(1 0 0 1.07 0 -25.494)">Anti-125b + LPS</text>
<line x1="53.00" y1="369.70" x2="63.20" y2="369.70" stroke="#000" stroke-width="1.7" />
<polygon points="55.10,367.30 61.10,367.30 58.10,372.70" fill="#000"/>
<text x="65.00" y="372.40" font-size="7.6" text-anchor="start" font-weight="normal" fill="#111" transform="matrix(1 0 0 1.07 0 -26.068)">CTRL + LPS</text>
<line x1="53.00" y1="378.10" x2="63.20" y2="378.10" stroke="#7d7d7d" stroke-width="1.7" />
<circle cx="58.10" cy="378.10" r="2.7" fill="#7d7d7d" stroke="none" stroke-width="0"/>
<text x="65.00" y="380.80" font-size="7.6" text-anchor="start" font-weight="normal" fill="#111" transform="matrix(1 0 0 1.07 0 -26.656)">Anti-125b</text>
<line x1="53.00" y1="386.50" x2="63.20" y2="386.50" stroke="#000" stroke-width="1.7" />
<circle cx="58.10" cy="386.50" r="2.7" fill="#000" stroke="none" stroke-width="0"/>
<text x="65.00" y="389.20" font-size="7.6" text-anchor="start" font-weight="normal" fill="#111" transform="matrix(1 0 0 1.07 0 -27.244)">CTRL</text>
<text x="97.50" y="330.00" font-size="7.6" text-anchor="middle" font-weight="normal" fill="#111" transform="matrix(1 0 0 1.07 0 -23.100)">Oligomycin</text>
<line x1="97.50" y1="334.20" x2="97.50" y2="346.50" stroke="#000" stroke-width="1.3" />
<polygon points="94.90,345.00 100.10,345.00 97.50,350.60" fill="#000"/>
<text x="145.70" y="330.00" font-size="7.6" text-anchor="middle" font-weight="normal" fill="#111" transform="matrix(1 0 0 1.07 0 -23.100)">FCCP</text>
<line x1="145.60" y1="334.20" x2="145.60" y2="346.50" stroke="#000" stroke-width="1.3" />
<polygon points="143.00,345.00 148.20,345.00 145.60,350.60" fill="#000"/>
<text x="205.00" y="330.00" font-size="7.6" text-anchor="middle" font-weight="normal" fill="#111" transform="matrix(1 0 0 1.07 0 -23.100)">Rotenone + Antimycin</text>
<line x1="194.40" y1="334.20" x2="194.40" y2="346.50" stroke="#000" stroke-width="1.3" />
<polygon points="191.80,345.00 197.00,345.00 194.40,350.60" fill="#000"/>
<text x="343.60" y="369.40" font-size="9.6" text-anchor="middle" font-weight="normal" fill="#111" transform="matrix(1 0 0 1.07 0 -25.858)">Basal Respiratory</text>
<text x="459.00" y="369.40" font-size="9.6" text-anchor="middle" font-weight="normal" fill="#111" transform="matrix(1 0 0 1.07 0 -25.858)">Maximal respiratory</text>
<line x1="309.00" y1="375.30" x2="309.00" y2="450.40" stroke="#000" stroke-width="1.3" />
<line x1="306.00" y1="449.80" x2="309.00" y2="449.80" stroke="#000" stroke-width="1.3" />
<text x="304.20" y="452.40" font-size="8" text-anchor="end" font-weight="normal" fill="#111" transform="matrix(1 0 0 1.07 0 -31.668)">0</text>
<line x1="306.00" y1="425.80" x2="309.00" y2="425.80" stroke="#000" stroke-width="1.3" />
<text x="304.20" y="428.40" font-size="8" text-anchor="end" font-weight="normal" fill="#111" transform="matrix(1 0 0 1.07 0 -29.988)">50</text>
<line x1="306.00" y1="401.80" x2="309.00" y2="401.80" stroke="#000" stroke-width="1.3" />
<text x="304.20" y="404.40" font-size="8" text-anchor="end" font-weight="normal" fill="#111" transform="matrix(1 0 0 1.07 0 -28.308)">100</text>
<line x1="306.00" y1="377.80" x2="309.00" y2="377.80" stroke="#000" stroke-width="1.3" />
<text x="304.20" y="380.40" font-size="8" text-anchor="end" font-weight="normal" fill="#111" transform="matrix(1 0 0 1.07 0 -26.628)">150</text>
<line x1="306.00" y1="449.80" x2="377.80" y2="449.80" stroke="#000" stroke-width="1.3" />
<line x1="317.90" y1="449.80" x2="317.90" y2="452.80" stroke="#000" stroke-width="1.3" />
<line x1="335.00" y1="449.80" x2="335.00" y2="452.80" stroke="#000" stroke-width="1.3" />
<line x1="352.05" y1="449.80" x2="352.05" y2="452.80" stroke="#000" stroke-width="1.3" />
<line x1="368.85" y1="449.80" x2="368.85" y2="452.80" stroke="#000" stroke-width="1.3" />
<line x1="317.90" y1="401.90" x2="317.90" y2="399.90" stroke="#000" stroke-width="1.2" />
<line x1="314.65" y1="399.90" x2="321.15" y2="399.90" stroke="#000" stroke-width="1.2" />
<rect x="311.80" y="401.90" width="12.20" height="47.90" fill="#000" />
<line x1="335.00" y1="424.90" x2="335.00" y2="423.00" stroke="#000" stroke-width="1.2" />
<line x1="331.75" y1="423.00" x2="338.25" y2="423.00" stroke="#000" stroke-width="1.2" />
<rect x="329.10" y="424.90" width="11.80" height="24.90" fill="#7a7a7a" />
<line x1="352.05" y1="407.30" x2="352.05" y2="403.70" stroke="#000" stroke-width="1.2" />
<line x1="348.80" y1="403.70" x2="355.30" y2="403.70" stroke="#000" stroke-width="1.2" />
<rect x="346.20" y="407.30" width="11.70" height="42.50" fill="#444" />
<line x1="368.85" y1="419.60" x2="368.85" y2="418.00" stroke="#000" stroke-width="1.2" />
<line x1="365.60" y1="418.00" x2="372.10" y2="418.00" stroke="#000" stroke-width="1.2" />
<rect x="362.90" y="419.60" width="11.90" height="30.20" fill="#bdbdbd" />
<text x="317.90" y="460.00" font-size="7.5" text-anchor="middle" font-weight="normal" fill="#111" transform="matrix(1 0 0 1.07 0 -32.200)">-</text>
<text x="335.00" y="460.00" font-size="7.5" text-anchor="middle" font-weight="normal" fill="#111" transform="matrix(1 0 0 1.07 0 -32.200)">+</text>
<text x="352.05" y="460.00" font-size="7.5" text-anchor="middle" font-weight="normal" fill="#111" transform="matrix(1 0 0 1.07 0 -32.200)">-</text>
<text x="368.85" y="460.00" font-size="7.5" text-anchor="middle" font-weight="normal" fill="#111" transform="matrix(1 0 0 1.07 0 -32.200)">+</text>
<line x1="309.30" y1="462.50" x2="341.40" y2="462.50" stroke="#000" stroke-width="1.2" />
<line x1="343.70" y1="462.50" x2="377.80" y2="462.50" stroke="#000" stroke-width="1.2" />
<text x="324.45" y="473.20" font-size="8" text-anchor="middle" font-weight="normal" fill="#111" transform="matrix(1 0 0 1.07 0 -33.124)">CTRL</text>
<text x="361.15" y="473.20" font-size="8" text-anchor="middle" font-weight="normal" fill="#111" transform="matrix(1 0 0 1.07 0 -33.124)">Anti-125b</text>
<text x="283.40" y="412.70" font-size="8" text-anchor="middle" font-weight="normal" fill="#111" transform="rotate(-90 283.40 412.70) matrix(1 0 0 1.07 0 -28.889)">OCR (%)</text>
<line x1="317.10" y1="386.40" x2="335.80" y2="386.40" stroke="#000" stroke-width="1.2" />
<circle cx="322.50" cy="383.00" r="1.35" fill="#000" stroke="none" stroke-width="0"/>
<circle cx="326.45" cy="383.00" r="1.35" fill="#000" stroke="none" stroke-width="0"/>
<circle cx="330.40" cy="383.00" r="1.35" fill="#000" stroke="none" stroke-width="0"/>
<line x1="353.70" y1="386.40" x2="371.30" y2="386.40" stroke="#000" stroke-width="1.2" />
<circle cx="360.52" cy="383.00" r="1.35" fill="#000" stroke="none" stroke-width="0"/>
<circle cx="364.47" cy="383.00" r="1.35" fill="#000" stroke="none" stroke-width="0"/>
<line x1="427.20" y1="376.70" x2="427.20" y2="450.90" stroke="#000" stroke-width="1.3" />
<line x1="424.20" y1="450.30" x2="427.20" y2="450.30" stroke="#000" stroke-width="1.3" />
<text x="422.40" y="452.90" font-size="8" text-anchor="end" font-weight="normal" fill="#111" transform="matrix(1 0 0 1.07 0 -31.703)">0</text>
<line x1="424.20" y1="426.60" x2="427.20" y2="426.60" stroke="#000" stroke-width="1.3" />
<text x="422.40" y="429.20" font-size="8" text-anchor="end" font-weight="normal" fill="#111" transform="matrix(1 0 0 1.07 0 -30.044)">50</text>
<line x1="424.20" y1="402.90" x2="427.20" y2="402.90" stroke="#000" stroke-width="1.3" />
<text x="422.40" y="405.50" font-size="8" text-anchor="end" font-weight="normal" fill="#111" transform="matrix(1 0 0 1.07 0 -28.385)">100</text>
<line x1="424.20" y1="379.20" x2="427.20" y2="379.20" stroke="#000" stroke-width="1.3" />
<text x="422.40" y="381.80" font-size="8" text-anchor="end" font-weight="normal" fill="#111" transform="matrix(1 0 0 1.07 0 -26.726)">150</text>
<line x1="424.20" y1="450.30" x2="494.00" y2="450.30" stroke="#000" stroke-width="1.3" />
<line x1="435.45" y1="450.30" x2="435.45" y2="453.30" stroke="#000" stroke-width="1.3" />
<line x1="452.35" y1="450.30" x2="452.35" y2="453.30" stroke="#000" stroke-width="1.3" />
<line x1="468.50" y1="450.30" x2="468.50" y2="453.30" stroke="#000" stroke-width="1.3" />
<line x1="485.15" y1="450.30" x2="485.15" y2="453.30" stroke="#000" stroke-width="1.3" />
<line x1="435.45" y1="402.90" x2="435.45" y2="399.50" stroke="#000" stroke-width="1.2" />
<line x1="432.20" y1="399.50" x2="438.70" y2="399.50" stroke="#000" stroke-width="1.2" />
<rect x="429.60" y="402.90" width="11.70" height="47.40" fill="#000" />
<line x1="452.35" y1="420.00" x2="452.35" y2="417.50" stroke="#000" stroke-width="1.2" />
<line x1="449.10" y1="417.50" x2="455.60" y2="417.50" stroke="#000" stroke-width="1.2" />
<rect x="446.50" y="420.00" width="11.70" height="30.30" fill="#7a7a7a" />
<line x1="468.50" y1="405.40" x2="468.50" y2="400.20" stroke="#000" stroke-width="1.2" />
<line x1="465.25" y1="400.20" x2="471.75" y2="400.20" stroke="#000" stroke-width="1.2" />
<rect x="463.00" y="405.40" width="11.00" height="44.90" fill="#444" />
<line x1="485.15" y1="412.80" x2="485.15" y2="409.50" stroke="#000" stroke-width="1.2" />
<line x1="481.90" y1="409.50" x2="488.40" y2="409.50" stroke="#000" stroke-width="1.2" />
<rect x="479.30" y="412.80" width="11.70" height="37.50" fill="#bdbdbd" />
<text x="435.45" y="460.50" font-size="7.5" text-anchor="middle" font-weight="normal" fill="#111" transform="matrix(1 0 0 1.07 0 -32.235)">-</text>
<text x="452.35" y="460.50" font-size="7.5" text-anchor="middle" font-weight="normal" fill="#111" transform="matrix(1 0 0 1.07 0 -32.235)">+</text>
<text x="468.50" y="460.50" font-size="7.5" text-anchor="middle" font-weight="normal" fill="#111" transform="matrix(1 0 0 1.07 0 -32.235)">-</text>
<text x="485.15" y="460.50" font-size="7.5" text-anchor="middle" font-weight="normal" fill="#111" transform="matrix(1 0 0 1.07 0 -32.235)">+</text>
<line x1="427.10" y1="462.50" x2="458.70" y2="462.50" stroke="#000" stroke-width="1.2" />
<line x1="460.50" y1="462.50" x2="494.00" y2="462.50" stroke="#000" stroke-width="1.2" />
<text x="442.00" y="473.20" font-size="8" text-anchor="middle" font-weight="normal" fill="#111" transform="matrix(1 0 0 1.07 0 -33.124)">CTRL</text>
<text x="477.65" y="473.20" font-size="8" text-anchor="middle" font-weight="normal" fill="#111" transform="matrix(1 0 0 1.07 0 -33.124)">Anti-125b</text>
<text x="400.30" y="412.70" font-size="8" text-anchor="middle" font-weight="normal" fill="#111" transform="rotate(-90 400.30 412.70) matrix(1 0 0 1.07 0 -28.889)">OCR (%)</text>
<line x1="435.20" y1="388.10" x2="452.30" y2="388.10" stroke="#000" stroke-width="1.2" />
<circle cx="443.75" cy="384.70" r="1.35" fill="#000" stroke="none" stroke-width="0"/>
<line x1="467.70" y1="388.10" x2="485.60" y2="388.10" stroke="#000" stroke-width="1.2" />
<text x="477.15" y="388.20" font-size="7.2" text-anchor="middle" font-weight="normal" fill="#111" font-style="italic" transform="matrix(1 0 0 1.07 0 -27.174)">ns</text>
</svg></body></html>
